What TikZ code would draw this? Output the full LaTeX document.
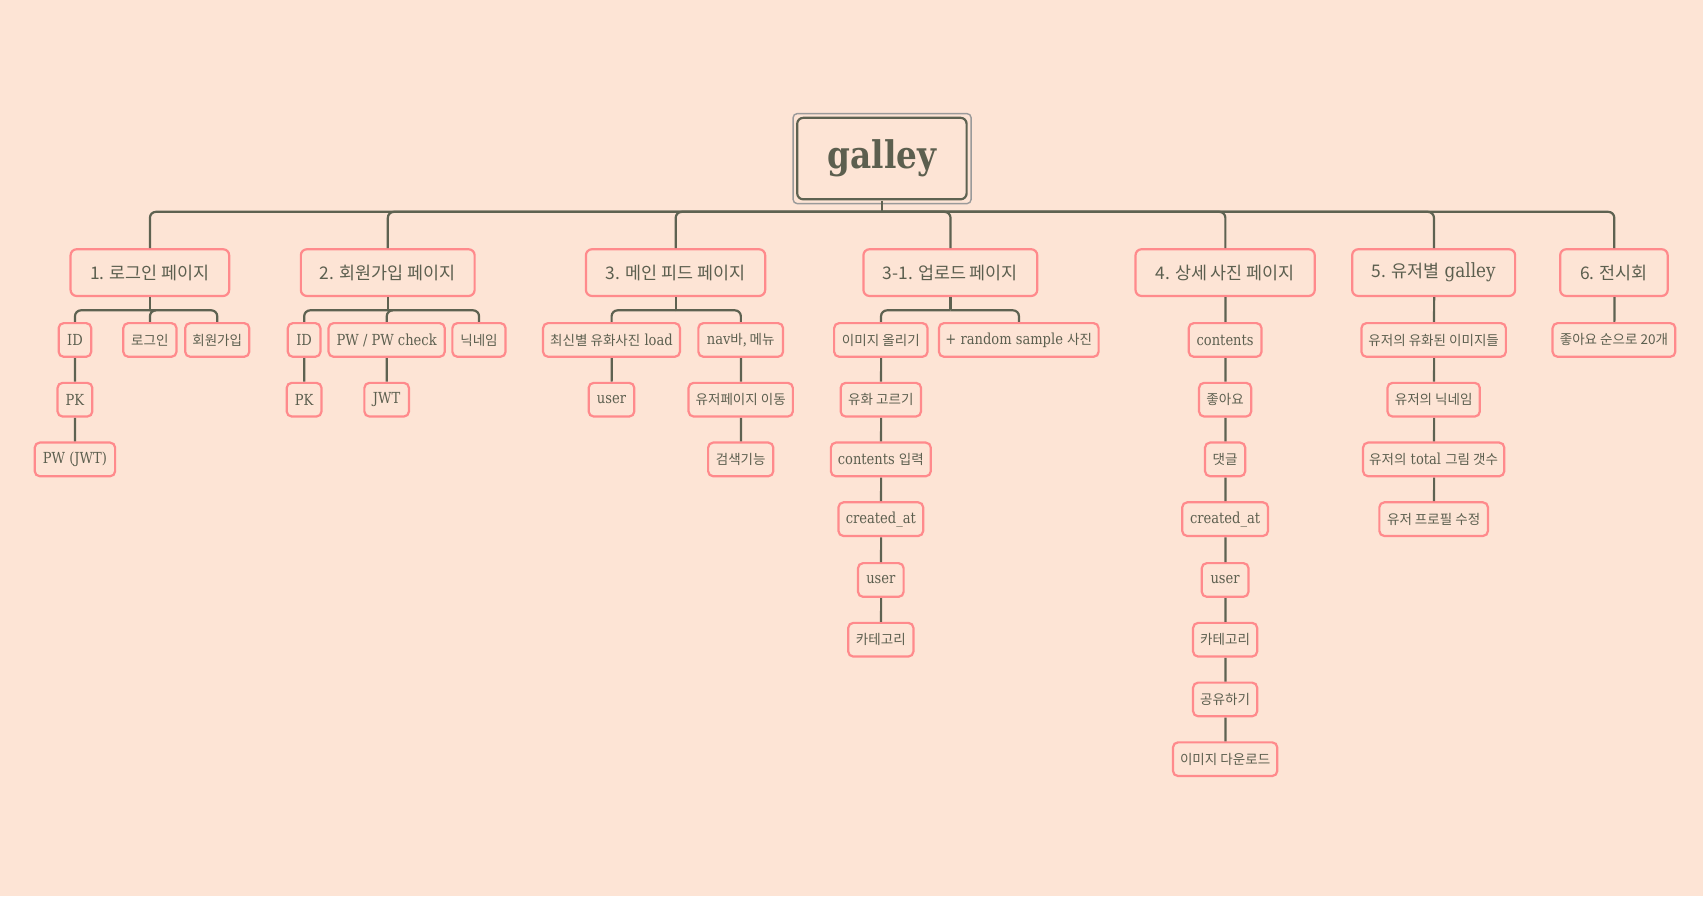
\documentclass[tikz,border=0pt]{standalone}
\usepackage{fontspec}
\setmainfont{DejaVu Serif}[FakeStretch=0.86]
\newfontfamily\kr{Noto Sans CJK KR}[Scale=0.89]
\definecolor{bg}{HTML}{FDE4D5}
\definecolor{tcol}{HTML}{5C5F4F}
\definecolor{lcol}{HTML}{5E6251}
\definecolor{pcol}{HTML}{FF8A8C}
\definecolor{gcol}{HTML}{9A9A9A}
\tikzset{
  mainbox/.style={draw=pcol, line width=2.2pt, rounded corners=6pt, fill=bg, text=tcol,
    font=\fontsize{18}{20}\selectfont, minimum height=43pt, inner sep=0pt},
  subbox/.style={draw=pcol, line width=2.2pt, rounded corners=5pt, fill=bg, text=tcol,
    font=\fontsize{14}{16}\selectfont, minimum height=31pt, inner sep=0pt},
  rootbox/.style={draw=lcol, line width=2.2pt, rounded corners=6pt, fill=bg, text=tcol,
    font=\fontsize{35}{40}\selectfont\bfseries, minimum width=156pt, minimum height=75pt, inner sep=0pt},
  conn/.style={draw=lcol, line width=2.2pt},
  rconn/.style={conn, rounded corners=6pt},
}
\begin{document}
\begin{tikzpicture}[x=1pt,y=-1pt,scale=1.0861,every node/.style={transform shape}]
\path[use as bounding box, fill=bg] (0,0) rectangle (1568,825);
% root
\node[rootbox] (root) at (812,146) {galley};
\draw[gcol, line width=1.4pt, rounded corners=4pt] ([xshift=-2.8pt,yshift=2.8pt]root.north west) rectangle ([xshift=2.8pt,yshift=-2.8pt]root.south east);
\coordinate (bus) at (812,195);
% level 1
\node[mainbox, minimum width=146pt] (n1) at (138,251) {\kr 1. 로그인 페이지};
\node[mainbox, minimum width=160pt] (n2) at (357,251) {\kr 2. 회원가입 페이지};
\node[mainbox, minimum width=165pt] (n3) at (622,251) {\kr 3. 메인 피드 페이지};
\node[mainbox, minimum width=160pt] (n31) at (875,251) {\kr 3-1. 업로드 페이지};
\node[mainbox, minimum width=165pt] (n4) at (1128,251) {\kr 4. 상세 사진 페이지};
\node[mainbox, minimum width=150pt] (n5) at (1320,251) {{\kr 5. 유저별} galley};
\node[mainbox, minimum width=99pt] (n6) at (1486,251) {\kr 6. 전시회};
% level 2 - login
\node[subbox, minimum width=30pt] (a1) at (69,313) {ID};
\node[subbox, minimum width=49pt] (a2) at (138,313) {\kr 로그인};
\node[subbox, minimum width=59pt] (a3) at (200,313) {\kr 회원가입};
\node[subbox, minimum width=32pt] (a4) at (69,368) {PK};
\node[subbox, minimum width=74pt] (a5) at (69,423) {PW (JWT)};
% signup
\node[subbox, minimum width=30pt] (b1) at (280,313) {ID};
\node[subbox, minimum width=107pt] (b2) at (356,313) {PW / PW check};
\node[subbox, minimum width=49pt] (b3) at (441,313) {\kr 닉네임};
\node[subbox, minimum width=32pt] (b4) at (280,368) {PK};
\node[subbox, minimum width=41pt] (b5) at (356,368) {JWT};
% main feed
\node[subbox, minimum width=126pt] (c1) at (563,313) {{\kr 최신별 유화사진} load};
\node[subbox, minimum width=78pt] (c2) at (682,313) {nav{\kr 바, 메뉴}};
\node[subbox, minimum width=42pt] (c3) at (563,368) {user};
\node[subbox, minimum width=96pt] (c4) at (682,368) {\kr 유저페이지 이동};
\node[subbox, minimum width=60pt] (c5) at (682,423) {\kr 검색기능};
% upload
\node[subbox, minimum width=86pt] (d1) at (811,313) {\kr 이미지 올리기};
\node[subbox, minimum width=147pt] (d2) at (938,313) {+ random sample {\kr 사진}};
\node[subbox, minimum width=74pt] (d3) at (811,368) {\kr 유화 고르기};
\node[subbox, minimum width=92pt] (d4) at (811,423) {contents {\kr 입력}};
\node[subbox, minimum width=78pt] (d5) at (811,478) {created\_at};
\node[subbox, minimum width=42pt] (d6) at (811,534) {user};
\node[subbox, minimum width=60pt] (d7) at (811,589) {\kr 카테고리};
% detail
\node[subbox, minimum width=67pt] (e1) at (1128,313) {contents};
\node[subbox, minimum width=48pt] (e2) at (1128,368) {\kr 좋아요};
\node[subbox, minimum width=37pt] (e3) at (1128,423) {\kr 댓글};
\node[subbox, minimum width=79pt] (e4) at (1128,478) {created\_at};
\node[subbox, minimum width=43pt] (e5) at (1128,534) {user};
\node[subbox, minimum width=59pt] (e6) at (1128,589) {\kr 카테고리};
\node[subbox, minimum width=59pt] (e7) at (1128,644) {\kr 공유하기};
\node[subbox, minimum width=96pt] (e8) at (1128,699) {\kr 이미지 다운로드};
% user galley
\node[subbox, minimum width=133pt] (f1) at (1320,313) {\kr 유저의 유화된 이미지들};
\node[subbox, minimum width=85pt] (f2) at (1320,368) {\kr 유저의 닉네임};
\node[subbox, minimum width=130pt] (f3) at (1320,423) {{\kr 유저의} total {\kr 그림 갯수}};
\node[subbox, minimum width=100pt] (f4) at (1320,478) {\kr 유저 프로필 수정};
% exhibition
\node[subbox, minimum width=113pt] (g1) at (1486,313) {\kr 좋아요 순으로 20개};
% connectors root
\draw[conn] (root.south) -- (bus);
\foreach \n in {n1,n2,n3,n31,n4,n5,n6} \draw[rconn] (bus) -| (\n.north);
% login
\draw[conn] (n1.south) -- ++(0,12) coordinate (j1);
\foreach \n in {a1,a2,a3} \draw[rconn] (j1) -| (\n.north);
\draw[conn] (a1) -- (a4);
\draw[conn] (a4) -- (a5);
% signup
\draw[conn] (n2.south) -- ++(0,12) coordinate (j2);
\foreach \n in {b1,b2,b3} \draw[rconn] (j2) -| (\n.north);
\draw[conn] (b1) -- (b4);
\draw[conn] (b2) -- (b5);
% main feed
\draw[conn] (n3.south) -- ++(0,12) coordinate (j3);
\foreach \n in {c1,c2} \draw[rconn] (j3) -| (\n.north);
\draw[conn] (c1) -- (c3);
\draw[conn] (c2) -- (c4);
\draw[conn] (c4) -- (c5);
% upload
\draw[conn] (n31.south) -- ++(0,12) coordinate (j31);
\foreach \n in {d1,d2} \draw[rconn] (j31) -| (\n.north);
\draw[conn] (d1) -- (d3);
\draw[conn] (d3) -- (d4);
\draw[conn] (d4) -- (d5);
\draw[conn] (d5) -- (d6);
\draw[conn] (d6) -- (d7);
% detail
\draw[conn] (n4) -- (e1);
\draw[conn] (e1) -- (e2);
\draw[conn] (e2) -- (e3);
\draw[conn] (e3) -- (e4);
\draw[conn] (e4) -- (e5);
\draw[conn] (e5) -- (e6);
\draw[conn] (e6) -- (e7);
\draw[conn] (e7) -- (e8);
% user galley
\draw[conn] (n5) -- (f1);
\draw[conn] (f1) -- (f2);
\draw[conn] (f2) -- (f3);
\draw[conn] (f3) -- (f4);
% exhibition
\draw[conn] (n6) -- (g1);
\end{tikzpicture}
\end{document}
